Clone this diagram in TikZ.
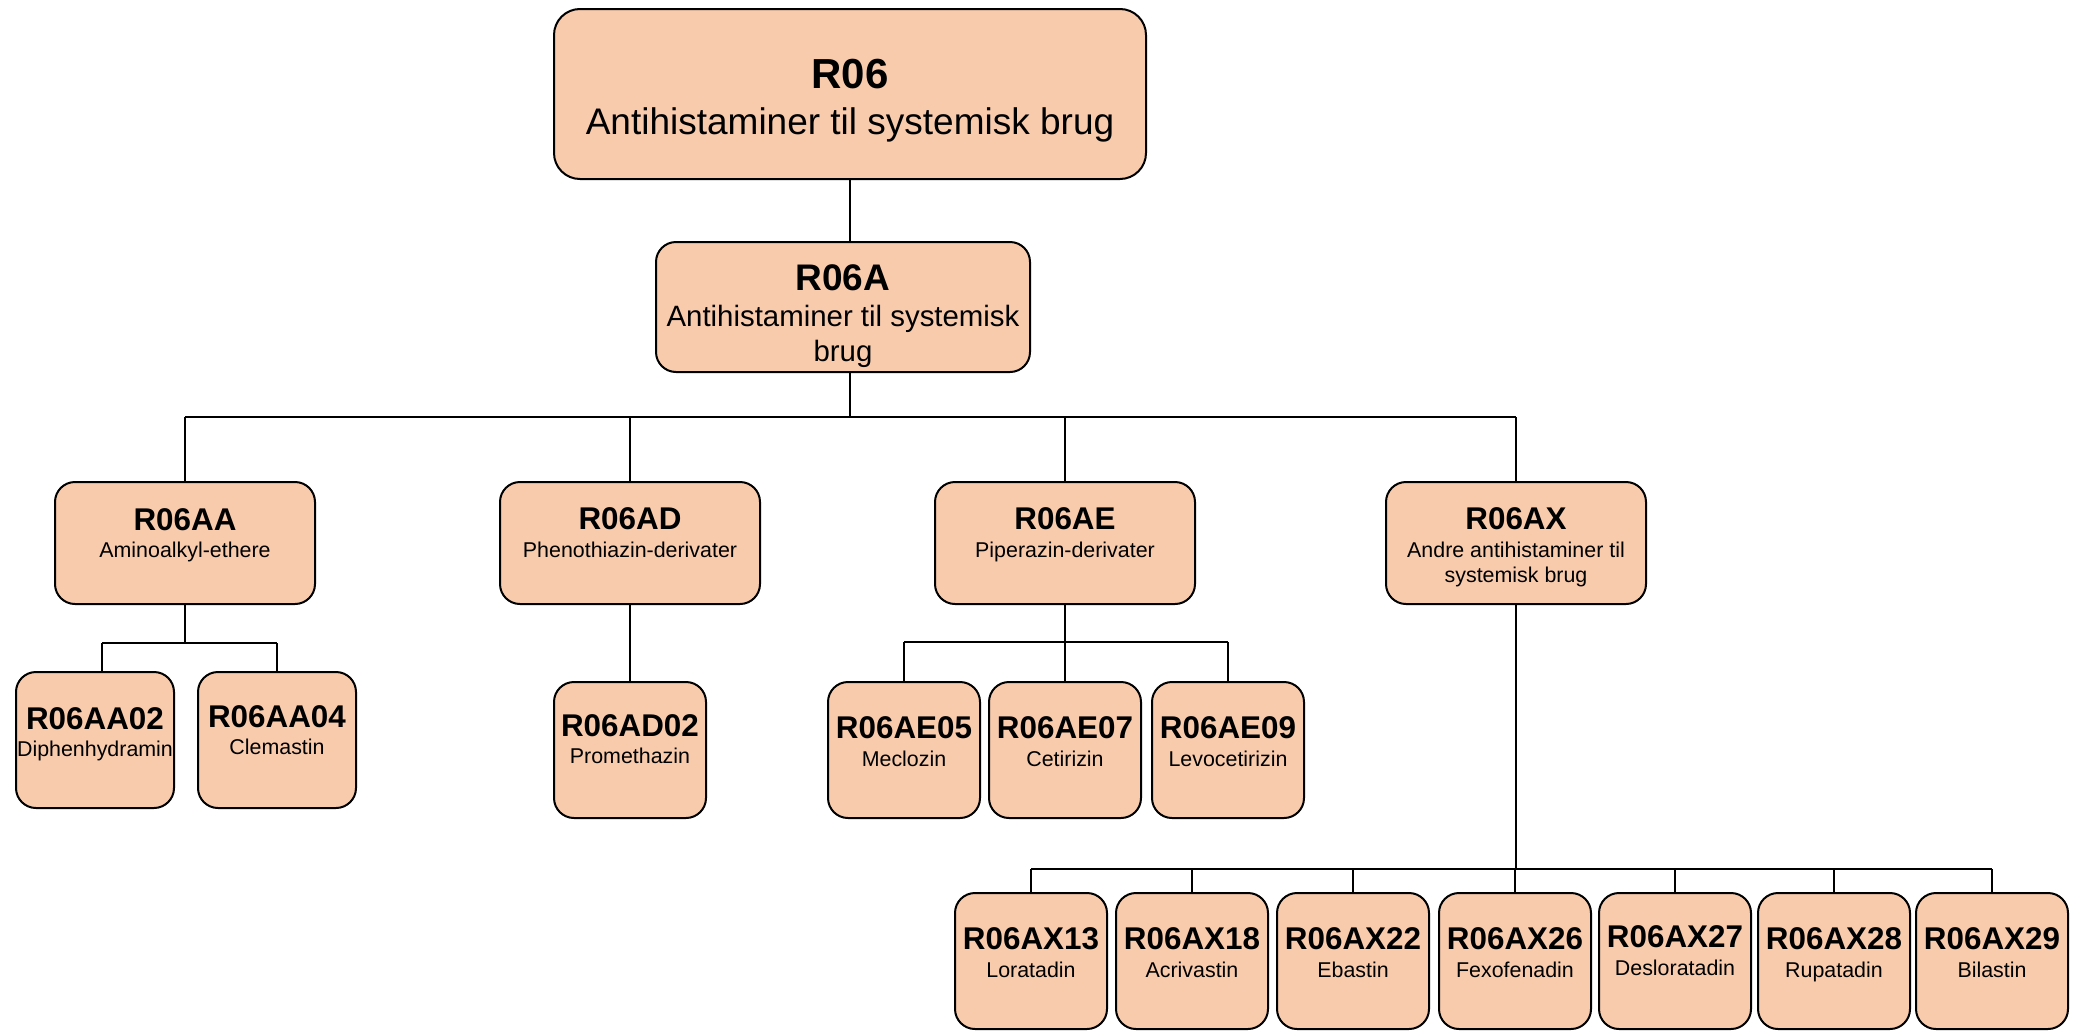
\documentclass[tikz,border=0pt]{standalone}
\usepackage{fontspec}
\setmainfont{Liberation Sans}
\definecolor{peach}{RGB}{248,203,173}
\begin{document}
\begin{tikzpicture}[x=1pt,y=-1pt,
  boxbig/.style={draw=black, fill=peach, line width=2pt, rounded corners=26pt, inner sep=0pt},
  boxmid/.style={draw=black, fill=peach, line width=2pt, rounded corners=20pt, inner sep=0pt},
  conn/.style={draw=black, line width=2pt},
  tA/.style={anchor=base, inner sep=0pt, font=\bfseries\fontsize{42}{50}\selectfont},
  sA/.style={anchor=base, inner sep=0pt, font=\fontsize{37}{44}\selectfont},
  tB/.style={anchor=base, inner sep=0pt, font=\bfseries\fontsize{37}{44}\selectfont},
  sB/.style={anchor=base, inner sep=0pt, font=\fontsize{29.4}{35}\selectfont},
  tC/.style={anchor=base, inner sep=0pt, font=\bfseries\fontsize{31.4}{38}\selectfont},
  sC/.style={anchor=base, inner sep=0pt, font=\fontsize{21.4}{25}\selectfont},
]
\useasboundingbox (0,0) rectangle (2074,1031);
\fill[white] (0,0) rectangle (2074,1031);

% boxes
\node[boxbig, minimum width=592pt, minimum height=170pt] (r06) at (850,94) {};
\node[boxmid, minimum width=374pt, minimum height=130pt] (r06a) at (843,307) {};

\node[boxmid, minimum width=260pt, minimum height=122pt] (aa) at (185,543) {};
\node[boxmid, minimum width=260pt, minimum height=122pt] (ad) at (630,543) {};
\node[boxmid, minimum width=260pt, minimum height=122pt] (ae) at (1065,543) {};
\node[boxmid, minimum width=260pt, minimum height=122pt] (ax) at (1516,543) {};

\node[boxmid, minimum width=158pt, minimum height=136pt] (aa02) at (95,740) {};
\node[boxmid, minimum width=158pt, minimum height=136pt] (aa04) at (277,740) {};

\node[boxmid, minimum width=152pt, minimum height=136pt] (ad02) at (630,750) {};

\node[boxmid, minimum width=152pt, minimum height=136pt] (ae05) at (904,750) {};
\node[boxmid, minimum width=152pt, minimum height=136pt] (ae07) at (1065,750) {};
\node[boxmid, minimum width=152pt, minimum height=136pt] (ae09) at (1228,750) {};

\node[boxmid, minimum width=152pt, minimum height=136pt] (ax13) at (1031,961) {};
\node[boxmid, minimum width=152pt, minimum height=136pt] (ax18) at (1192,961) {};
\node[boxmid, minimum width=152pt, minimum height=136pt] (ax22) at (1353,961) {};
\node[boxmid, minimum width=152pt, minimum height=136pt] (ax26) at (1515,961) {};
\node[boxmid, minimum width=152pt, minimum height=136pt] (ax27) at (1675,961) {};
\node[boxmid, minimum width=152pt, minimum height=136pt] (ax28) at (1834,961) {};
\node[boxmid, minimum width=152pt, minimum height=136pt] (ax29) at (1992,961) {};

% connectors
\coordinate (busL) at (185,417);
\coordinate (busR) at (1516,417);
\draw[conn] (r06.south) -- (r06.south |- r06a.north);
\draw[conn] (r06.south |- r06a.south) -- (r06.south |- busL);
\draw[conn] (busL) -- (busR);
\draw[conn] (busL) -- (aa.north);
\draw[conn] (busL -| ad.north) -- (ad.north);
\draw[conn] (busL -| ae.north) -- (ae.north);
\draw[conn] (busR) -- (ax.north);

\coordinate (aaL) at (102,643);
\coordinate (aaR) at (277,643);
\draw[conn] (aa.south) -- (aa.south |- aaL);
\draw[conn] (aaL) -- (aaR);
\draw[conn] (aaL) -- (aaL |- aa02.north);
\draw[conn] (aaR) -- (aa04.north);

\draw[conn] (ad.south) -- (ad02.north);

\coordinate (aeL) at (904,642);
\coordinate (aeR) at (1228,642);
\draw[conn] (ae.south) -- (ae.south |- aeL);
\draw[conn] (aeL) -- (aeR);
\draw[conn] (aeL) -- (ae05.north);
\draw[conn] (ae.south |- aeL) -- (ae07.north);
\draw[conn] (aeR) -- (ae09.north);

\coordinate (axL) at (1031,869);
\coordinate (axR) at (1992,869);
\draw[conn] (ax.south) -- (ax.south |- axL);
\draw[conn] (axL) -- (axR);
\foreach \n in {ax13,ax18,ax22,ax26,ax27,ax28,ax29}
  \draw[conn] (\n.north |- axL) -- (\n.north);

% texts
\node[tA] (r06t) at (850,88) {R06};
\node[sA] (r06s) at (850,134) {Antihistaminer til systemisk brug};

\node[tB] (r06at) at (843,290) {R06A};
\node[sB] (r06as1) at (843,326.7) {Antihistaminer til systemisk};
\node[sB] (r06as2) at (843,361.7) {brug};

\node[tC] (aat) at (185,530) {R06AA};
\node[sC] (aas) at (185,557) {Aminoalkyl-ethere};
\node[tC] (adt) at (630,529.5) {R06AD};
\node[sC] (ads) at (630,557) {Phenothiazin-derivater};
\node[tC] (aet) at (1065,529.5) {R06AE};
\node[sC] (aes) at (1065,557) {Piperazin-derivater};
\node[tC] (axt) at (1516,529.5) {R06AX};
\node[sC] (axs1) at (1516,557) {Andre antihistaminer til};
\node[sC] (axs2) at (1516,582) {systemisk brug};

\node[tC] (aa02t) at (95,729) {R06AA02};
\node[sC] (aa02s) at (95,756) {Diphenhydramin};
\node[tC] (aa04t) at (277,727) {R06AA04};
\node[sC] (aa04s) at (277,754) {Clemastin};

\node[tC] (ad02t) at (630,736) {R06AD02};
\node[sC] (ad02s) at (630,763) {Promethazin};

\node[tC] (ae05t) at (904,738) {R06AE05};
\node[sC] (ae05s) at (904,766) {Meclozin};
\node[tC] (ae07t) at (1065,738) {R06AE07};
\node[sC] (ae07s) at (1065,766) {Cetirizin};
\node[tC] (ae09t) at (1228,738) {R06AE09};
\node[sC] (ae09s) at (1228,766) {Levocetirizin};

\node[tC] (ax13t) at (1031,949) {R06AX13};
\node[sC] (ax13s) at (1031,977) {Loratadin};
\node[tC] (ax18t) at (1192,949) {R06AX18};
\node[sC] (ax18s) at (1192,977) {Acrivastin};
\node[tC] (ax22t) at (1353,949) {R06AX22};
\node[sC] (ax22s) at (1353,977) {Ebastin};
\node[tC] (ax26t) at (1515,949) {R06AX26};
\node[sC] (ax26s) at (1515,977) {Fexofenadin};
\node[tC] (ax27t) at (1675,947) {R06AX27};
\node[sC] (ax27s) at (1675,975) {Desloratadin};
\node[tC] (ax28t) at (1834,949) {R06AX28};
\node[sC] (ax28s) at (1834,977) {Rupatadin};
\node[tC] (ax29t) at (1992,949) {R06AX29};
\node[sC] (ax29s) at (1992,977) {Bilastin};
\end{tikzpicture}
\end{document}
